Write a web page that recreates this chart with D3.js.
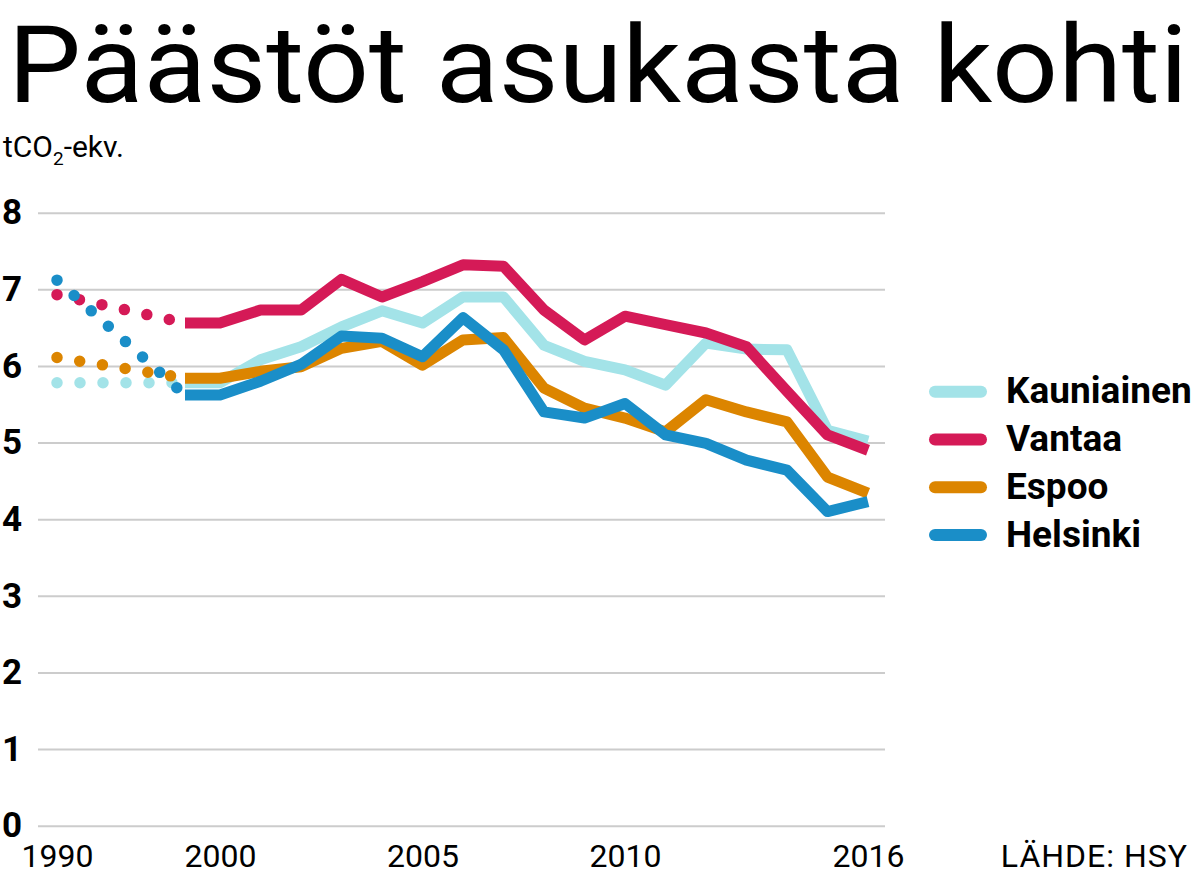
<!DOCTYPE html>
<html>
<head>
<meta charset="utf-8">
<script src="https://cdn.jsdelivr.net/npm/d3@7"></script>
<style>
  body { margin: 0; background: #fff; }
  svg { display: block; font-family: Roboto, 'Open Sans', sans-serif; }
</style>
</head>
<body>
<svg id="chart" width="1198" height="881"></svg>
<script>
// data: emissions per inhabitant, tCO2-eq
const cities = ['Kauniainen', 'Vantaa', 'Espoo', 'Helsinki'];
const colors = ['#a3e3e8', '#d51a57', '#dc8500', '#1a8ec8'];
const years = [2000, 2001, 2002, 2003, 2004, 2005, 2006, 2007, 2008,
  2009, 2010, 2011, 2012, 2013, 2014, 2015, 2016];
const value1990 = [5.78, 6.93, 6.11, 7.12];
const kauniainen = [5.78, 6.08, 6.25, 6.51, 6.72, 6.56, 6.9, 6.9, 6.27,
  6.06, 5.95, 5.75, 6.3, 6.22, 6.21, 5.16, 5.02];
const vantaa = [6.56, 6.73, 6.73, 7.13, 6.9, 7.1, 7.32, 7.3, 6.73,
  6.34, 6.65, 6.54, 6.43, 6.25, 5.67, 5.1, 4.9];
const espoo = [5.84, 5.93, 5.99, 6.23, 6.32, 6.01, 6.34, 6.37, 5.71,
  5.45, 5.32, 5.14, 5.56, 5.4, 5.27, 4.55, 4.34];
const helsinki = [5.62, 5.8, 6.02, 6.39, 6.36, 6.12, 6.63, 6.21, 5.4,
  5.32, 5.51, 5.1, 4.99, 4.77, 4.64, 4.1, 4.23];
const xTicks = [1990, 2000, 2005, 2010, 2016];
const yTicks = [0, 1, 2, 3, 4, 5, 6, 7, 8];

const seriesValues = [kauniainen, vantaa, espoo, helsinki];
// the 1990s are compressed: solid lines start a little before 2000
const axisBreak = 1999;

const svg = d3.select('#chart');
const margin = { top: 213, right: 313, bottom: 55, left: 38 };
const width = 1198, height = 881;

const x = d3.scaleLinear()
  .domain([1990, axisBreak, 2000, 2016])
  .range([57, 185, 220, 868]);
const y = d3.scaleLinear()
  .domain([0, 8])
  .range([height - margin.bottom - 0.3, margin.top - 0.3]);

// title
svg.append('text')
  .attr('x', 8)
  .attr('y', 102)
  .attr('font-size', 108)
  .attr('fill', '#000')
  .attr('textLength', 1180)
  .attr('lengthAdjust', 'spacingAndGlyphs')
  .text('Päästöt asukasta kohti');

const unit = svg.append('text')
  .attr('x', 3)
  .attr('y', 157)
  .attr('font-size', 30)
  .attr('fill', '#000');
unit.append('tspan').text('tCO');
unit.append('tspan').attr('font-size', 19).attr('dy', 8).text('2');
unit.append('tspan').attr('dy', -8).text('-ekv.');

// y axis + grid
const yAxis = svg.append('g')
  .attr('transform', `translate(${margin.left},0)`)
  .call(d3.axisLeft(y)
    .tickValues(yTicks)
    .tickSize(-(width - margin.right - margin.left))
    .tickPadding(16)
    .tickFormat(d3.format('d')));
yAxis.select('.domain').remove();
yAxis.selectAll('.tick line')
  .attr('stroke', '#cccccc')
  .attr('stroke-width', 2);
yAxis.selectAll('.tick text')
  .attr('font-family', 'Roboto, sans-serif')
  .attr('font-size', 35)
  .attr('font-weight', 'bold')
  .attr('fill', '#000')
  .attr('dy', '0.32em');

// x axis
const xAxis = svg.append('g')
  .attr('transform', `translate(0,867)`)
  .call(d3.axisBottom(x)
    .tickValues(xTicks)
    .tickSize(0)
    .tickPadding(0)
    .tickFormat(d3.format('d')));
xAxis.select('.domain').remove();
xAxis.selectAll('.tick text')
  .attr('font-family', 'Roboto, sans-serif')
  .attr('font-size', 32)
  .attr('fill', '#000')
  .attr('y', 0)
  .attr('dy', null);

svg.append('text')
  .attr('x', 1188)
  .attr('y', 867)
  .attr('text-anchor', 'end')
  .attr('font-size', 32)
  .attr('letter-spacing', 1)
  .attr('fill', '#000')
  .text('LÄHDE: HSY');

// lines
const line = d3.line()
  .x((d) => x(d[0]))
  .y((d) => y(d[1]));

const plot = svg.append('g');
cities.forEach((city, i) => {
  const vals = seriesValues[i];
  const dotted = [[1990, value1990[i]], [axisBreak, vals[0]]];
  const solid = [[axisBreak, vals[0]]].concat(years.map((yr, j) => [yr, vals[j]]));

  plot.append('path')
    .datum(dotted)
    .attr('d', line)
    .attr('fill', 'none')
    .attr('stroke', colors[i])
    .attr('stroke-width', 11.5)
    .attr('stroke-linecap', 'round')
    .attr('stroke-dasharray', '0 23');

  plot.append('path')
    .datum(solid)
    .attr('d', line)
    .attr('fill', 'none')
    .attr('stroke', colors[i])
    .attr('stroke-width', 11)
    .attr('stroke-linejoin', 'round');
});

// legend
const legend = svg.append('g');
cities.forEach((city, i) => {
  const cy = 391.7 + i * 47.8;
  legend.append('line')
    .attr('x1', 935)
    .attr('x2', 981)
    .attr('y1', cy)
    .attr('y2', cy)
    .attr('stroke', colors[i])
    .attr('stroke-width', 12)
    .attr('stroke-linecap', 'round');
  legend.append('text')
    .attr('x', 1006)
    .attr('y', cy + 11.5)
    .attr('font-size', 37)
    .attr('font-weight', 'bold')
    .attr('fill', '#000')
    .text(city);
});
</script>
</body>
</html>
